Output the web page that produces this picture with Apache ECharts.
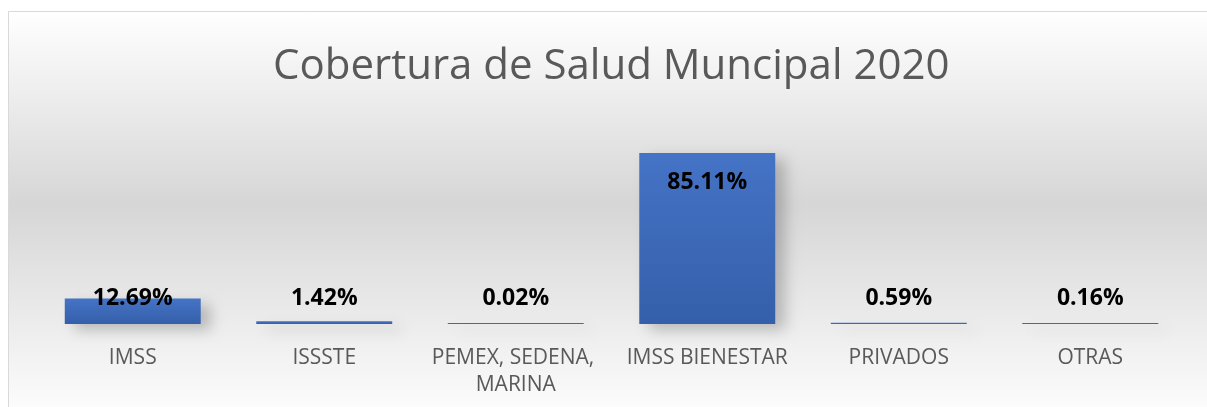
<!DOCTYPE html>
<html>
<head>
<meta charset="utf-8">
<script src="https://cdn.jsdelivr.net/npm/echarts@6/dist/echarts.min.js"></script>
<style>
html, body { margin: 0; padding: 0; background: #fff; }
#chart { width: 1207px; height: 407px; }
</style>
</head>
<body>
<div id="chart"></div>
<script>
// datos
var categorias = ["IMSS", "ISSSTE", "PEMEX, SEDENA, MARINA", "IMSS BIENESTAR", "PRIVADOS", "OTRAS"];
var porcentajes = [12.69, 1.42, 0.02, 85.11, 0.59, 0.16];
var titulo = "Cobertura de Salud Muncipal 2020";

var myChart = echarts.init(document.getElementById("chart"));

var azul = new echarts.graphic.LinearGradient(0, 0, 0, 1, [
  { offset: 0, color: "#4573c6" },
  { offset: 1, color: "#345fa9" }
]);

// etiqueta dentro arriba para la barra grande, sobre la base para las chicas
var datos = porcentajes.map(function (v) {
  return {
    value: v,
    label: v > 50
      ? { position: "insideTop", distance: 18 }
      : { position: "insideBottom", distance: 14 }
  };
});

myChart.setOption({
  animation: false,
  graphic: [
    {
      type: "rect",
      z: -10,
      silent: true,
      shape: { x: 8.5, y: 11.5, width: 1210, height: 410 },
      style: {
        fill: new echarts.graphic.LinearGradient(0, 0, 0, 1, [
          { offset: 0, color: "#ffffff" },
          { offset: 0.47, color: "#d6d6d6" },
          { offset: 0.97, color: "#fcfcfc" },
          { offset: 1, color: "#ffffff" }
        ]),
        stroke: "#d9d9d9",
        lineWidth: 1
      }
    }
  ],
  title: {
    text: titulo,
    left: 268,
    top: 41,
    textStyle: {
      fontFamily: "Open Sans",
      fontWeight: "normal",
      fontSize: 42,
      color: "#595959"
    }
  },
  grid: {
    left: 37,
    right: 21,
    top: 123,
    bottom: 83
  },
  xAxis: {
    type: "category",
    data: categorias,
    axisLine: { show: false },
    axisTick: { show: false },
    axisLabel: {
      margin: 21,
      interval: 0,
      width: 185,
      overflow: "break",
      lineHeight: 27,
      fontFamily: "Open Sans",
      fontSize: 21,
      color: "#595959"
    }
  },
  yAxis: {
    type: "value",
    min: 0,
    max: 100,
    show: false,
    splitLine: { show: false }
  },
  series: [
    {
      type: "bar",
      data: datos,
      barWidth: "71%",
      barMinHeight: 1,
      itemStyle: {
        color: azul,
        shadowColor: "rgba(0,0,0,0.22)",
        shadowBlur: 14,
        shadowOffsetX: 10,
        shadowOffsetY: 6
      },
      label: {
        show: true,
        formatter: function (p) { return p.value.toFixed(2) + "%"; },
        fontFamily: "Open Sans",
        fontWeight: "bold",
        fontSize: 23,
        color: "#000000"
      }
    }
  ]
});
</script>
</body>
</html>
